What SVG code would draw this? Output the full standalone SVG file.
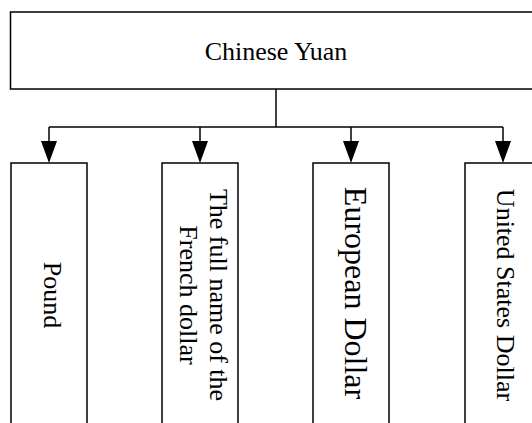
<svg xmlns="http://www.w3.org/2000/svg" width="532" height="423" viewBox="0 0 532 423">
<style>
.box{fill:#fff;stroke:#000;stroke-width:1.5}
.t{font-family:"Liberation Serif","Times New Roman",serif;font-size:26px;fill:#000;text-anchor:middle}
.con{fill:none;stroke:#000;stroke-width:1.5}
</style>
<defs>
<marker id="ah" markerWidth="16" markerHeight="22" refX="8" refY="22" orient="auto-start-reverse" markerUnits="userSpaceOnUse" viewBox="0 0 16 22">
<path d="M0,0 L16,0 L8,22 Z" fill="#000"/>
</marker>
</defs>
<g id="connectors">
<path class="con" d="M276,89 V127"/>
<path class="con" d="M49,127 H503"/>
<path d="M49,127 V141" class="con"/>
<path d="M200,127 V141" class="con"/>
<path d="M351,127 V141" class="con"/>
<path d="M503,127 V141" class="con"/>
<path d="M41,141 H57 L49,163 Z"/>
<path d="M192,141 H208 L200,163 Z"/>
<path d="M343,141 H359 L351,163 Z"/>
<path d="M495,141 H511 L503,163 Z"/>
</g>
<g id="root">
<rect class="box" x="10.5" y="12" width="531" height="77"/>
<text class="t" x="276" y="60">Chinese Yuan</text>
</g>
<g id="pound">
<rect class="box" x="11" y="163" width="76" height="270"/>
<text class="t" transform="translate(43.5,295) rotate(90)">Pound</text>
</g>
<g id="french">
<rect class="box" x="162" y="163" width="76" height="270"/>
<text class="t" transform="translate(210,295) rotate(90)">The full name of the</text>
<text class="t" transform="translate(180,295) rotate(90)">French dollar</text>
</g>
<g id="european">
<rect class="box" x="313" y="163" width="76" height="270"/>
<text class="t" style="font-size:32px" transform="translate(345,293) rotate(90)">European Dollar</text>
</g>
<g id="usd">
<rect class="box" x="465" y="163" width="76" height="270"/>
<text class="t" transform="translate(497,295) rotate(90)">United States Dollar</text>
</g>
</svg>
